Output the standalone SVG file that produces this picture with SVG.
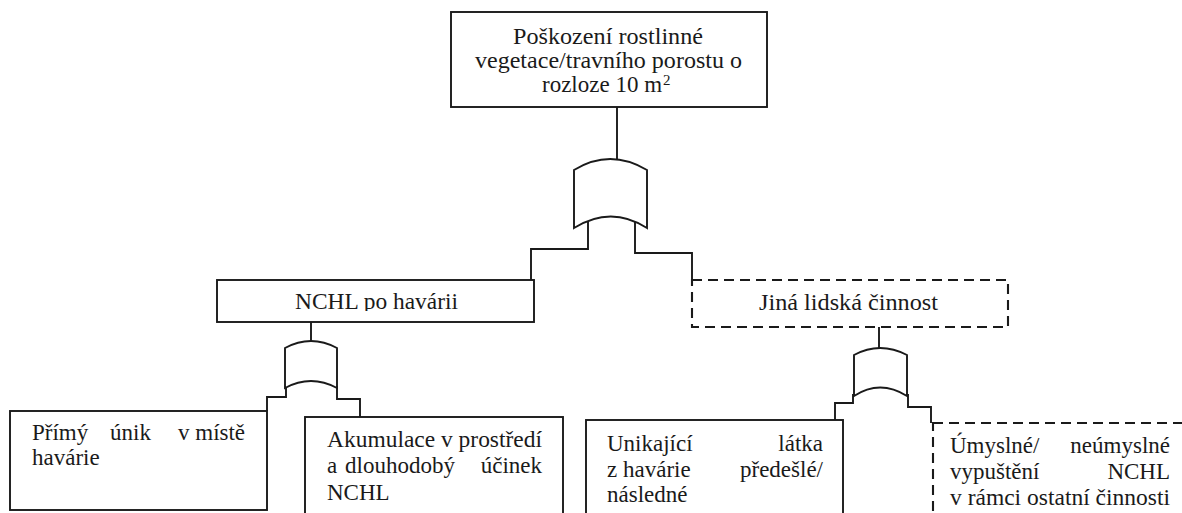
<svg xmlns="http://www.w3.org/2000/svg" width="1182" height="513" viewBox="0 0 1182 513">
  <style>
    .box { fill: #ffffff; stroke: #1a1a1a; stroke-width: 1.9; }
    .dashed { fill: #ffffff; stroke: #1a1a1a; stroke-width: 2.1; stroke-dasharray: 10 6; }
    .gate { fill: #ffffff; stroke: #1a1a1a; stroke-width: 1.9; stroke-linejoin: miter; }
    .wire { fill: none; stroke: #1a1a1a; stroke-width: 1.9; }
    text { font-family: "Liberation Serif", "Times New Roman", serif; font-size: 23px; fill: #1a1a1a; }
    .sup { font-size: 15px; }
  </style>
  <defs>
    <clipPath id="clip-nchl">
      <rect x="217" y="280" width="317" height="31"/>
    </clipPath>
  </defs>

  <rect width="1182" height="513" fill="#ffffff"/>

  <!-- connectors -->
  <g id="connectors">
    <path class="wire" d="M617 107 V160"/>
    <path class="wire" d="M588 222 V249 H531 V280"/>
    <path class="wire" d="M635 222 V253 H692 V280"/>
    <path class="wire" d="M311 322 V342"/>
    <path class="wire" d="M286 386 V397 H267 V411"/>
    <path class="wire" d="M337 386 V399 H360 V417"/>
    <path class="wire" d="M879 327 V349"/>
    <path class="wire" d="M853 394 V403 H835 V420"/>
    <path class="wire" d="M908 394 V407 H931 V423"/>
  </g>

  <!-- top event -->
  <g id="top-event">
    <rect class="box" x="451" y="12" width="316" height="95"/>
    <text x="513" y="44" textLength="190" lengthAdjust="spacingAndGlyphs">Poškození rostlinné</text>
    <text x="475" y="68" textLength="267" lengthAdjust="spacingAndGlyphs">vegetace/travního porostu o</text>
    <text x="542" y="92">rozloze 10 m<tspan class="sup" dx="1" dy="-7">2</tspan></text>
  </g>

  <!-- OR gates: curved input edge on top, concave output edge with pointed tips below -->
  <g id="gate-top">
    <path class="gate" d="M574 170 Q610 148 647 170 V228 Q611 205 574 228 Z"/>
  </g>
  <g id="gate-nchl">
    <path class="gate" d="M285 348 Q311 334 337 348 V388 Q311 374 285 388 Z"/>
  </g>
  <g id="gate-jina">
    <path class="gate" d="M854 355 Q880 341 907 355 V396 Q880 379 854 396 Z"/>
  </g>

  <!-- intermediate events -->
  <g id="nchl-po-havarii">
    <rect class="box" x="217" y="280" width="317" height="42"/>
    <text x="295" y="309" textLength="163" lengthAdjust="spacingAndGlyphs" clip-path="url(#clip-nchl)">NCHL po havárii</text>
  </g>
  <g id="jina-lidska-cinnost">
    <rect class="dashed" x="692" y="280" width="316" height="47"/>
    <text x="759" y="310" textLength="179" lengthAdjust="spacingAndGlyphs">Jiná lidská činnost</text>
  </g>

  <!-- basic events -->
  <g id="primy-unik">
    <rect class="box" x="10" y="411" width="257" height="99"/>
    <text y="440"><tspan x="32">Přímý</tspan><tspan x="110">únik</tspan><tspan x="178">v místě</tspan></text>
    <text x="32" y="465">havárie</text>
  </g>
  <g id="akumulace">
    <rect class="box" x="305" y="417" width="258" height="110"/>
    <text x="327" y="447" textLength="215" lengthAdjust="spacingAndGlyphs">Akumulace v prostředí</text>
    <text y="473"><tspan x="327">a</tspan><tspan x="345">dlouhodobý</tspan></text>
    <text x="542" y="473" text-anchor="end">účinek</text>
    <text x="327" y="500">NCHL</text>
  </g>
  <g id="unikajici-latka">
    <rect class="box" x="586" y="420" width="257" height="110"/>
    <text x="607" y="451">Unikající</text>
    <text x="823" y="451" text-anchor="end">látka</text>
    <text x="607" y="477">z havárie</text>
    <text x="823" y="477" text-anchor="end">předešlé/</text>
    <text x="607" y="502">následné</text>
  </g>
  <g id="umyslne-vypusteni">
    <rect class="dashed" x="933" y="423" width="270" height="110"/>
    <text x="950" y="453">Úmyslné/</text>
    <text x="1170" y="453" text-anchor="end">neúmyslné</text>
    <text x="950" y="479">vypuštění</text>
    <text x="1170" y="479" text-anchor="end">NCHL</text>
    <text x="950" y="505" textLength="220" lengthAdjust="spacingAndGlyphs">v rámci ostatní činnosti</text>
  </g>
</svg>
